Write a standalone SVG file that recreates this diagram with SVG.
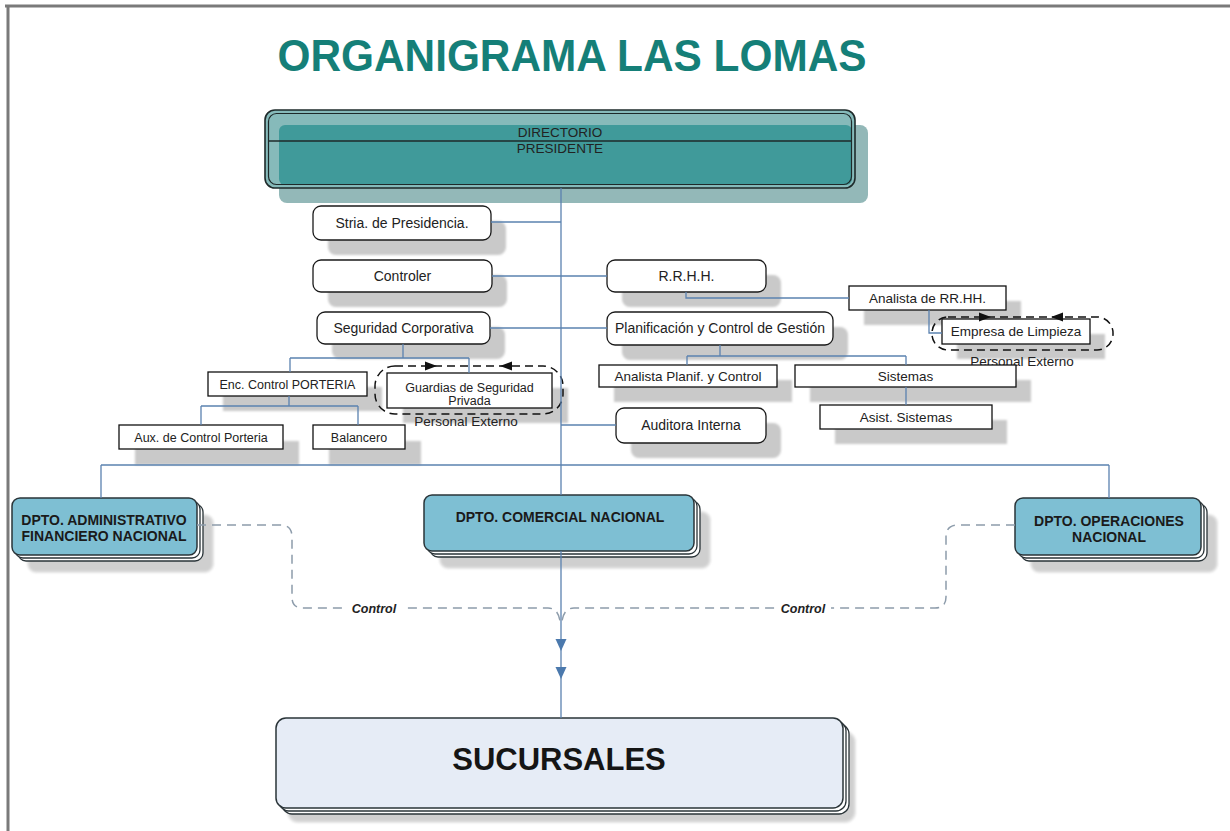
<svg xmlns="http://www.w3.org/2000/svg" width="1230" height="831" viewBox="0 0 1230 831">
<defs>
<style>
.sh{fill:#c9c9c9;filter:url(#blur)}
.rb{fill:#fff;stroke:#1a1a1a;stroke-width:1.3}
.sb{fill:#fff;stroke:#111;stroke-width:1.3}
.t14{font-family:"Liberation Sans",Arial,sans-serif;font-size:14px;fill:#222;text-anchor:middle}
.t13{font-family:"Liberation Sans",Arial,sans-serif;font-size:13.5px;fill:#222;text-anchor:middle}
.t12{font-family:"Liberation Sans",Arial,sans-serif;font-size:12.5px;fill:#222;text-anchor:middle}
.tb{font-family:"Liberation Sans",Arial,sans-serif;font-size:14px;font-weight:bold;fill:#1a1a1a;text-anchor:middle}
.dbox{fill:#7ebfd3;stroke:#2a3438;stroke-width:1.5}
.dst{fill:#fff;stroke:#2a3438;stroke-width:1.3}
.dsh{fill:#cfcfcf;stroke:#e2e2e2;stroke-width:2;filter:url(#blur)}
.bnd{fill:none;stroke:#111;stroke-width:1.5;stroke-dasharray:8 5}
.con{fill:none;stroke:#5b82b0;stroke-width:1.3}
.ctl{fill:none;stroke:#8d9cab;stroke-width:1.5;stroke-dasharray:9 6}
.ctlt{font-family:"Liberation Sans",Arial,sans-serif;font-size:12.5px;font-weight:bold;font-style:italic;fill:#222;text-anchor:middle}
</style>
<filter id="blur" x="-5%" y="-5%" width="110%" height="110%"><feGaussianBlur stdDeviation="1.2"/></filter>
</defs>
<rect x="0" y="0" width="1230" height="831" fill="#fff"/>
<path d="M5,6 H1230 M8,6 V831" stroke="#7a7a7a" stroke-width="3" fill="none"/>
<text x="572" y="71" font-family="Liberation Sans,Arial,sans-serif" font-size="44" font-weight="bold" fill="#157f78" text-anchor="middle" textLength="589" lengthAdjust="spacingAndGlyphs">ORGANIGRAMA LAS LOMAS</text>

<g id="directorio">
<rect x="279" y="125" width="589" height="78" rx="8" fill="#93b8b8"/>
<rect x="265" y="110" width="590" height="78" rx="10" fill="#86baba"/>
<rect x="279" y="125" width="573" height="60" rx="6" fill="#409a9a"/>
<rect x="265" y="110" width="590" height="78" rx="10" fill="none" stroke="#1e2a2a" stroke-width="1.6"/>
<rect x="268.5" y="113.5" width="583" height="71" rx="8" fill="none" stroke="#1e2a2a" stroke-width="1.2"/>
<line x1="269" y1="141" x2="852" y2="141" stroke="#1e2a2a" stroke-width="1.5"/>
<text class="t13" x="560" y="137" fill="#2a3a3a">DIRECTORIO</text>
<text class="t13" x="560" y="153" fill="#2a3a3a">PRESIDENTE</text>
</g>

<g id="stria">
<rect class="sh" x="328" y="221" width="178" height="34" rx="8"/>
<rect class="rb" x="313" y="206" width="178" height="34" rx="8"/>
<text class="t14" x="402" y="228">Stria. de Presidencia.</text>
</g>
<g id="controler">
<rect class="sh" x="328" y="275" width="179" height="32" rx="8"/>
<rect class="rb" x="313" y="260" width="179" height="32" rx="8"/>
<text class="t14" x="402.5" y="281">Controler</text>
</g>
<g id="rrhh">
<rect class="sh" x="622" y="275" width="159" height="32" rx="8"/>
<rect class="rb" x="607" y="260" width="159" height="32" rx="8"/>
<text class="t14" x="686.5" y="281">R.R.H.H.</text>
</g>
<g id="analista-rrhh">
<rect class="sh" x="864" y="301" width="157" height="24"/>
<rect class="sb" x="849" y="286" width="157" height="24"/>
<text class="t13" x="927.5" y="303">Analista de RR.HH.</text>
</g>
<g id="empresa-limpieza">
<rect class="sh" x="957" y="334" width="148" height="25"/>
<rect class="sb" x="942" y="319" width="148" height="25"/>
<text class="t13" x="1016" y="336">Empresa de Limpieza</text>
<rect class="bnd" x="932" y="317" width="181" height="33" rx="16"/>
<polygon points="979,312.5 991,317 979,321.5" fill="#111"/>
<polygon points="1063,312.5 1051,317 1063,321.5" fill="#111"/>
<text class="t13" x="1022" y="366">Personal Externo</text>
</g>
<g id="seguridad">
<rect class="sh" x="332" y="327" width="173" height="32" rx="8"/>
<rect class="rb" x="317" y="312" width="173" height="32" rx="8"/>
<text class="t14" x="403.5" y="333">Seguridad Corporativa</text>
</g>
<g id="planificacion">
<rect class="sh" x="622" y="327" width="226" height="33" rx="8"/>
<rect class="rb" x="607" y="312" width="226" height="33" rx="8"/>
<text class="t14" x="720" y="333">Planificación y Control de Gestión</text>
</g>
<g id="analista-planif">
<rect class="sh" x="614" y="380" width="178" height="22"/>
<rect class="sb" x="599" y="365" width="178" height="22"/>
<text class="t13" x="688" y="381">Analista Planif. y Control</text>
</g>
<g id="sistemas">
<rect class="sh" x="810" y="380" width="221" height="22"/>
<rect class="sb" x="795" y="365" width="221" height="22"/>
<text class="t13" x="905.5" y="381">Sistemas</text>
</g>
<g id="asist-sistemas">
<rect class="sh" x="835" y="420" width="172" height="24"/>
<rect class="sb" x="820" y="405" width="172" height="24"/>
<text class="t13" x="906" y="422">Asist. Sistemas</text>
</g>
<g id="auditora">
<rect class="sh" x="631" y="423" width="150" height="35" rx="8"/>
<rect class="rb" x="616" y="408" width="150" height="35" rx="8"/>
<text class="t14" x="691" y="430">Auditora Interna</text>
</g>
<g id="enc-porteria">
<rect class="sh" x="223" y="387" width="159" height="24"/>
<rect class="sb" x="208" y="372" width="159" height="24"/>
<text class="t12" x="287.5" y="388.5">Enc. Control PORTERIA</text>
</g>
<g id="guardias">
<rect class="sh" x="403" y="388" width="165" height="35"/>
<rect class="sb" x="387" y="373" width="165" height="35"/>
<text class="t12" x="469.5" y="392" font-size="12">Guardias de Seguridad</text>
<text class="t12" x="469.5" y="405" font-size="12">Privada</text>
<rect class="bnd" x="375" y="366" width="188" height="48" rx="20"/>
<polygon points="425,361.5 437,366 425,370.5" fill="#111"/>
<polygon points="512,361.5 500,366 512,370.5" fill="#111"/>
<text class="t13" x="466" y="426">Personal Externo</text>
</g>
<g id="aux-porteria">
<rect class="sh" x="135" y="441" width="164" height="24"/>
<rect class="sb" x="119" y="425" width="164" height="24"/>
<text class="t12" x="201" y="441.5">Aux. de Control Porteria</text>
</g>
<g id="balancero">
<rect class="sh" x="329" y="441" width="92" height="24"/>
<rect class="sb" x="313" y="425" width="92" height="24"/>
<text class="t12" x="359" y="441.5">Balancero</text>
</g>

<g id="dpto-admin">
<rect class="dsh" x="28" y="515" width="185" height="57" rx="8"/>
<rect class="dst" x="18" y="504" width="185" height="57" rx="8"/>
<rect class="dst" x="15" y="501" width="185" height="57" rx="8"/>
<rect class="dbox" x="12" y="498" width="185" height="57" rx="8"/>
<text class="tb" x="104" y="525">DPTO. ADMINISTRATIVO</text>
<text class="tb" x="104" y="541">FINANCIERO NACIONAL</text>
</g>
<g id="dpto-comercial">
<rect class="dsh" x="440" y="512" width="270" height="56" rx="8"/>
<rect class="dst" x="430" y="501" width="270" height="56" rx="8"/>
<rect class="dst" x="427" y="498" width="270" height="56" rx="8"/>
<rect class="dbox" x="424" y="495" width="270" height="56" rx="8"/>
<text class="tb" x="560" y="522">DPTO. COMERCIAL NACIONAL</text>
</g>
<g id="dpto-operaciones">
<rect class="dsh" x="1031" y="515" width="186" height="57" rx="8"/>
<rect class="dst" x="1021" y="504" width="186" height="57" rx="8"/>
<rect class="dst" x="1018" y="501" width="186" height="57" rx="8"/>
<rect class="dbox" x="1015" y="498" width="186" height="57" rx="8"/>
<text class="tb" x="1109" y="526">DPTO. OPERACIONES</text>
<text class="tb" x="1109" y="542">NACIONAL</text>
</g>
<g id="sucursales">
<rect class="dsh" x="288" y="732" width="567" height="90" rx="10"/>
<rect class="dst" x="282" y="724" width="567" height="90" rx="10"/>
<rect class="dst" x="279" y="721" width="567" height="90" rx="10"/>
<rect x="276" y="718" width="567" height="90" rx="10" fill="#e6ecf6" stroke="#2a3438" stroke-width="1.5"/>
<text x="559" y="770" font-family="Liberation Sans,Arial,sans-serif" font-size="31" font-weight="bold" fill="#151515" text-anchor="middle">SUCURSALES</text>
</g>

<g id="connectors">
<path class="con" d="M561,188 V495 M561,551 V718" stroke-width="1.6" stroke="#4b79ad"/>
<path class="con" d="M491,222 H561 M492,276 H607 M686,292 V298 H849 M929,310 V333 H942 M490,328 H607"/>
<path class="con" d="M403,344 V358 M290,358 H469 M290,358 V372 M469,358 V373"/>
<path class="con" d="M289,396 V406 M201,406 H358 M201,406 V425 M358,406 V425"/>
<path class="con" d="M720,345 V356 M687,356 H906 M687,356 V365 M906,356 V365 M906,387 V405 M561,425 H616"/>
<path class="con" d="M101,465 H1109 M101,465 V498 M1109,465 V498"/>
<polygon points="555.5,639 566.5,639 561,651" fill="#4b79ad"/>
<polygon points="555.5,667 566.5,667 561,679" fill="#4b79ad"/>
<path class="ctl" d="M197,525 H280 Q292,525 292,537 V597 Q292,608 303,608 H548 Q558,608 560,621"/>
<path class="ctl" d="M1015,525 H958 Q946,525 946,537 V597 Q946,608 935,608 H574 Q564,608 562,621"/>
<rect x="347" y="600" width="55" height="16" fill="#fff"/>
<text class="ctlt" x="374" y="613">Control</text>
<rect x="776" y="600" width="55" height="16" fill="#fff"/>
<text class="ctlt" x="803" y="613">Control</text>
</g>
</svg>
